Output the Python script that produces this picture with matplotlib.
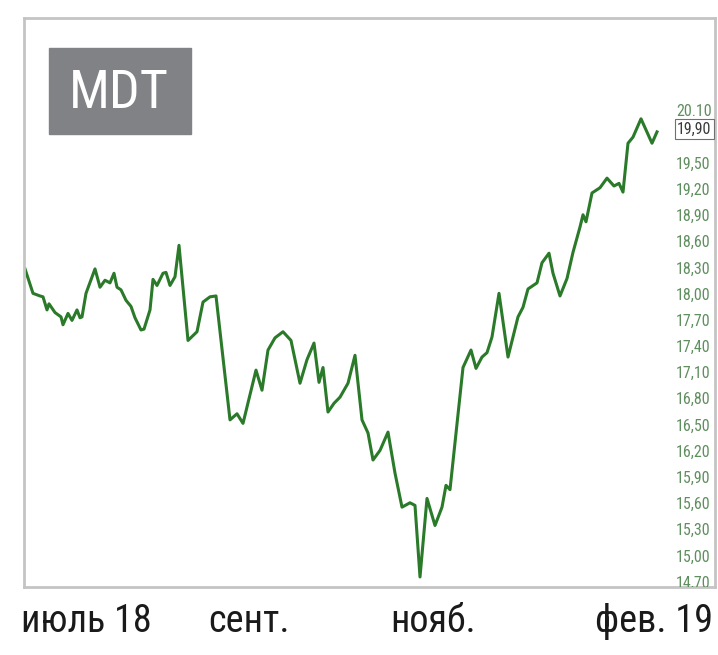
import matplotlib
matplotlib.use("Agg")
import matplotlib.pyplot as plt
from matplotlib import font_manager
from matplotlib.patches import Rectangle

# MDT daily close, jul 2018 - feb 2019 (t = sample step along the chart)
t = [1, 9, 16, 19, 23, 25, 31, 37, 39, 44, 48, 53, 56, 58, 62, 71, 76, 81, 86, 90,
     93, 97, 102, 107, 111, 117, 120, 126, 129, 133, 139, 142, 146, 151, 155, 164, 173,
     179, 186, 192, 206, 213, 219, 232, 238, 244, 251, 259, 267, 276, 283, 290, 295,
     299, 304, 310, 316, 319, 324, 331, 338, 344, 349, 356, 364, 371, 378, 386, 391,
     396, 403, 411, 418, 422, 426, 439, 447, 452, 458, 463, 468, 475, 484, 494, 499,
     504, 513, 518, 525, 529, 536, 543, 549, 556, 559, 562, 568, 576, 583, 590, 595,
     599, 604, 609, 617, 628, 633]
price = [18.30, 18.02, 17.99, 17.98, 17.83, 17.90, 17.80, 17.75, 17.66, 17.79, 17.71,
         17.83, 17.74, 17.75, 18.02, 18.30, 18.09, 18.17, 18.14, 18.25, 18.09, 18.06,
         17.94, 17.87, 17.74, 17.60, 17.61, 17.83, 18.18, 18.11, 18.25, 18.26, 18.11,
         18.21, 18.57, 17.48, 17.58, 17.92, 17.98, 17.99, 16.57, 16.64, 16.53, 17.14,
         16.91, 17.37, 17.51, 17.58, 17.48, 16.99, 17.26, 17.45, 17.00, 17.17, 16.66,
         16.76, 16.83, 16.89, 16.99, 17.31, 16.57, 16.42, 16.11, 16.22, 16.43, 15.96,
         15.57, 15.62, 15.59, 14.77, 15.67, 15.36, 15.57, 15.82, 15.77, 17.17, 17.37,
         17.16, 17.29, 17.34, 17.52, 18.02, 17.29, 17.75, 17.86, 18.07, 18.14, 18.37,
         18.48, 18.25, 17.99, 18.19, 18.49, 18.78, 18.92, 18.84, 19.17, 19.23, 19.34,
         19.25, 19.28, 19.18, 19.74, 19.81, 20.02, 19.74, 19.87]

ytick_vals = [19.50, 19.20, 18.90, 18.60, 18.30, 18.00, 17.70, 17.40, 17.10, 16.80,
              16.50, 16.20, 15.90, 15.60, 15.30, 15.00, 14.70]
top_label = "20.10"
last_label = "19,90"
month_labels = ["июль 18", "сент.", "нояб.", "фев. 19"]


def narrow_font():
    # look for some condensed sans; the reference uses a narrow face
    found = {}
    for f in font_manager.fontManager.ttflist:
        st = str(f.stretch)
        if 'Narrow' in f.name or 'Condensed' in f.name or st in ('condensed', 'semi-condensed'):
            found.setdefault(f.name, st)
    for pref in ['Liberation Sans Narrow', 'Roboto Condensed', 'DejaVu Sans',
                 'Noto Sans', 'Open Sans']:
        if pref in found:
            return dict(family=[pref, 'DejaVu Sans'], stretch=found[pref]), True
    if found:
        name = sorted(found)[0]
        return dict(family=[name, 'DejaVu Sans'], stretch=found[name]), True
    return dict(family=['DejaVu Sans']), False


nf, is_narrow = narrow_font()
k = 1.0 if is_narrow else 0.8   # shrink if nothing narrow exists

W, H = 718, 655
fig = plt.figure(figsize=(W / 100, H / 100), dpi=100)
fig.patch.set_facecolor("white")

# chart frame
left, right, top, bottom = 24, 715, 18, 587
ax = fig.add_axes([left / W, 1 - bottom / H, (right - left) / W, (bottom - top) / H])
ax.plot(t, price, color="#2a7a2a", lw=2.2, solid_joinstyle="round")
ax.set_xlim(0, right - left)
ax.set_ylim(14.655, 21.175)
ax.set_xticks([])
ax.set_yticks([])
for s in ax.spines.values():
    s.set_color("#c4c4c4")
    s.set_linewidth(2)

lab_x = 652
lab_col = "#5f8f5f"
fs = 11.5 * k
for v in ytick_vals:
    ax.text(lab_x, v, f"{v:.2f}".replace(".", ","), fontsize=fs, color=lab_col,
            va="center", ha="left", clip_on=True, **nf)
ax.text(lab_x, 20.10, top_label, fontsize=fs, color=lab_col, va="center", ha="left",
        clip_on=True, **nf)
ax.text(lab_x + 1, price[-1] + 0.03, last_label, fontsize=fs, color="#3a3a3a",
        va="center", ha="left", clip_on=True,
        bbox=dict(boxstyle="square,pad=0.15", fc="white", ec="#707070", lw=0.8), **nf)

# ticker badge
fig.patches.append(Rectangle((49 / W, 1 - 134 / H), 142 / W, 86 / H,
                             transform=fig.transFigure, color="#808285"))
fig.text(119 / W, 1 - 94 / H, "MDT", color="white", fontsize=39 * k,
         ha="center", va="center", **nf)

# month labels under the frame
for x, s in zip([86, 249, 433, 654], month_labels):
    fig.text(x / W, 1 - 621 / H, s, fontsize=27.5 * k, color="#1a1a1a",
             ha="center", va="center", **nf)

fig.savefig("out.png", dpi=100)
